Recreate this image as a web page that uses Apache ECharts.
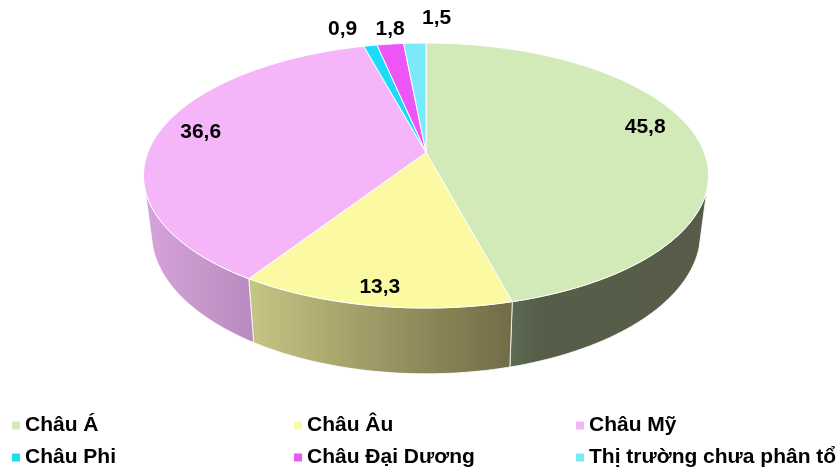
<!DOCTYPE html>
<html>
<head>
<meta charset="utf-8">
<style>html,body{margin:0;padding:0;background:#fff}#c{width:840px;height:470px}</style>
<script src="https://cdn.jsdelivr.net/npm/echarts@6/dist/echarts.min.js"></script>
</head>
<body>
<div id="c"></div>
<script>
const categories = ['Châu Á','Châu Âu','Châu Mỹ','Châu Phi','Châu Đại Dương','Thị trường chưa phân tổ'];
const shares = [45.8,13.3,36.6,0.9,1.8,1.5];
const valueLabels = ['45,8','13,3','36,6','0,9','1,8','1,5'];

const topColors = ['#d2e9b8','#fbfaa3','#f4b6f9','#1adcf6','#ed55f5','#7aeafa'];
const wallColors = [[[0,'#5c6c54'],[.14,'#565e4a'],[1,'#565c48']],[[0,'#c6c684'],[.5,'#9c9764'],[1,'#716c46']],[[0,'#d6a2da'],[.5,'#c898cc'],[1,'#b98ac0']],null,null,null];
const labelPlacement = [[.84,-6.4],[.897,0],[.848,2],[1.21,-3.8],[1.165,1],[1.28,4.8]]; // [radius factor, angle shift]
const legendPos = [[12,415],[294,415],[576,415],[12,447],[294,447],[576,447]];

// perspective view of the disc
const view = {cx:426, top:{cy:152.5, a:278.2, b:128.5}, bottom:{cy:208, a:270.5, b:137}, k:0.1737, wallFrom:106, wallTo:254};
const total = shares.reduce((s,v)=>s+v,0);
const rad = d => d*Math.PI/180;
function project(deg, r, p){
  const X = r*Math.sin(rad(deg)), Y = -r*Math.cos(rad(deg)), d = 1-view.k*Y;
  return [view.cx + p.a*X/d, p.cy + p.b*Y/d];
}
function arc(a0, a1, r, p){
  const n = Math.max(2, Math.ceil(Math.abs(a1-a0)/1.5)), pts = [];
  for(let i=0;i<=n;i++) pts.push(project(a0+(a1-a0)*i/n, r, p));
  return pts;
}
function startAngle(idx){ let s=0; for(let i=0;i<idx;i++) s+=shares[i]; return s/total*360; }

function makeRender(idx){
  return function(params, api){
    const a0 = startAngle(idx), a1 = a0 + api.value(0)/total*360;
    const children = [];
    const w0 = Math.max(a0, view.wallFrom), w1 = Math.min(a1, view.wallTo);
    if(w1 > w0 && wallColors[idx]){
      const pts = arc(w0,w1,1,view.top).concat(arc(w1,w0,1,view.bottom));
      children.push({type:'polygon', shape:{points:pts}, style:{
        fill:{type:'linear',x:0,y:0,x2:1,y2:0,colorStops:wallColors[idx].map(s=>({offset:s[0],color:s[1]}))},
        stroke:'#fff', lineWidth:0.8}});
    }
    const top = [project(0,0,view.top)].concat(arc(a0,a1,1,view.top));
    children.push({type:'polygon', shape:{points:top}, style:{fill:topColors[idx], stroke:'#fff', lineWidth:1}});
    const lp = labelPlacement[idx];
    const pos = project((a0+a1)/2+lp[1], lp[0], view.top);
    children.push({type:'text', x:pos[0], y:pos[1], z2:10, style:{text:valueLabels[idx], fill:'#000',
      font:'bold 21px "Liberation Sans", Arial, sans-serif', align:'center', verticalAlign:'middle'}});
    return {type:'group', children};
  };
}

const chart = echarts.init(document.getElementById('c'), null, {renderer:'canvas'});
chart.setOption({
  animation:false,
  backgroundColor:'#fff',
  color:topColors,
  legend: categories.map((name,i)=>({
    data:[name], left:legendPos[i][0], top:legendPos[i][1], icon:'rect', itemWidth:8, itemHeight:8, itemGap:6,
    padding:0, selectedMode:false,
    textStyle:{color:'#000', fontFamily:'"Liberation Sans", Arial, sans-serif', fontWeight:'bold', fontSize:21, padding:[0,0,0,0]}
  })),
  series: categories.map((name,i)=>({
    type:'custom', name, coordinateSystem:'none', silent:true,
    itemStyle:{color:topColors[i]},
    renderItem:makeRender(i),
    data:[[shares[i]]]
  }))
});
</script>
</body>
</html>
